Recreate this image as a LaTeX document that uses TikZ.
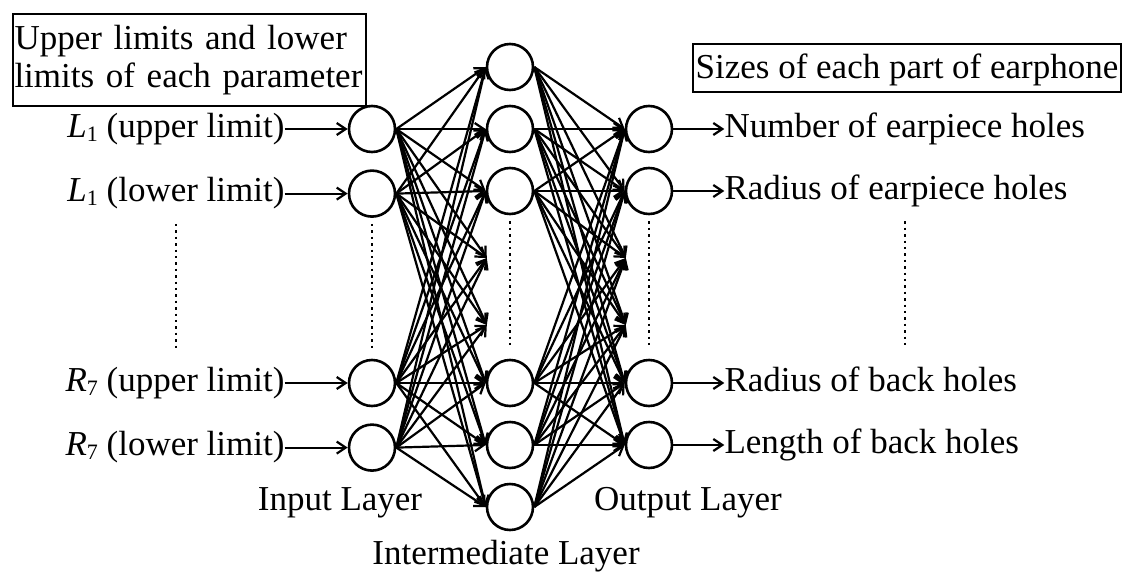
\documentclass[tikz,border=0pt]{standalone}
\usepackage{fontspec}
\setmainfont{Liberation Serif}
\usetikzlibrary{arrows.meta,positioning}
\newcommand{\idx}[1]{\raisebox{-4pt}{\fontsize{22}{22}\selectfont #1}}
\tikzset{
  neuron/.style={circle,draw,line width=2.6pt,minimum size=46pt,inner sep=0pt},
  ghost/.style={circle,minimum size=46pt,inner sep=0pt},
  flow/.style={-{Straight Barb[length=9pt,width=12pt]},line width=2.2pt},
  tag/.style={font=\fontsize{35}{38}\selectfont,inner sep=0pt,text height=24pt,text depth=8pt},
  caption/.style={font=\fontsize{35}{38}\selectfont,inner sep=0pt,anchor=base},
  vdots/.style={line width=2.4pt,dash pattern=on 2.4pt off 4pt,shorten <=6pt,shorten >=10pt},
}

\begin{document}
\begin{tikzpicture}[x=1pt,y=-1pt]
\useasboundingbox (0,0) rectangle (1127,573);
% input layer
\node[neuron] (in1) at (372,129) {};
\node[neuron,below=16pt of in1] (in2) {};
\node[neuron] (in3) at (372,383) {};
\node[neuron,below=16pt of in3] (in4) {};
% intermediate layer (mid4, mid5 are not drawn)
\node[neuron] (mid1) at (510,67) {};
\node[neuron] (mid2) at (510,129) {};
\node[neuron] (mid3) at (510,191) {};
\node[ghost]  (mid4) at (510,258) {};
\node[ghost]  (mid5) at (510,325) {};
\node[neuron] (mid6) at (510,383) {};
\node[neuron] (mid7) at (510,445) {};
\node[neuron] (mid8) at (510,507) {};
% output layer (out3, out4 are not drawn)
\node[neuron] (out1) at (649,129) {};
\node[neuron] (out2) at (649,191) {};
\node[ghost]  (out3) at (649,258) {};
\node[ghost]  (out4) at (649,325) {};
\node[neuron] (out5) at (649,383) {};
\node[neuron] (out6) at (649,445) {};
\foreach \i in {1,...,4}
  \foreach \j in {1,...,8}
    \draw[flow] (in\i.east) -- (mid\j.west);
\foreach \j in {1,2,3,6,7,8}
  \foreach \k in {1,...,6}
    \draw[flow] (mid\j.east) -- (out\k.west);
% inputs
\node[tag,left=63pt of in1] (l1) {\textit{L}\idx{1} (upper limit)};
\node[tag,left=63pt of in2] (l2) {\textit{L}\idx{1} (lower limit)};
\node[tag,left=63pt of in3] (l3) {\textit{R}\idx{7} (upper limit)};
\node[tag,left=63pt of in4] (l4) {\textit{R}\idx{7} (lower limit)};
\draw[flow] (l1) -- (in1); \draw[flow] (l2) -- (in2);
\draw[flow] (l3) -- (in3); \draw[flow] (l4) -- (in4);
% outputs
\node[tag,right=51pt of out1] (r1) {Number of earpiece holes};
\node[tag,right=51pt of out2] (r2) {Radius of earpiece holes};
\node[tag,right=51pt of out5] (r3) {Radius of back holes};
\node[tag,right=51pt of out6] (r4) {Length of back holes};
\draw[flow] (out1) -- (r1); \draw[flow] (out2) -- (r2);
\draw[flow] (out5) -- (r3); \draw[flow] (out6) -- (r4);
% headings
\node[font=\fontsize{35}{38}\selectfont,draw,line width=2pt,align=left,
      text width=350pt,inner xsep=1.5pt,inner ysep=11pt,anchor=north west]
  (inhead) at (12,13) {Upper limits and lower\\limits of each parameter};
\node[tag,draw,line width=2pt,text height=26pt,text depth=6pt,
      inner xsep=2.5pt,inner ysep=8pt] (outhead) at (907,68) {Sizes of each part of earphone};
% dotted gaps
\draw[vdots] (l2.south |- in2.south) -- (l2.south |- in3.north);
\draw[vdots] (in2) -- (in3);
\draw[vdots] (mid3) -- (mid6);
\draw[vdots] (out2) -- (out5);
\draw[vdots] (r1.south |- out2.south) -- (r1.south |- out5.north);
% layer names
\node[caption] (inname)  at (340,510) {Input Layer};
\node[caption] (outname) at (688,510) {Output Layer};
\node[caption] (midname) at (506,564) {Intermediate Layer};
\end{tikzpicture}
\end{document}
